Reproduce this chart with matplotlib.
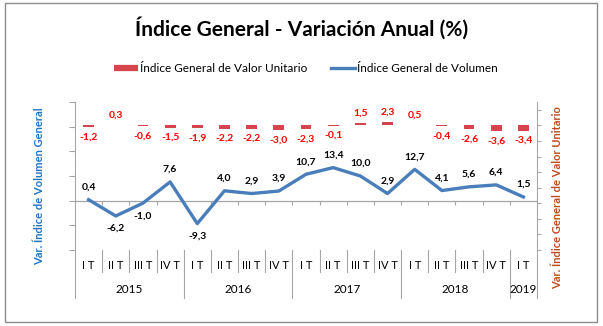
import numpy as np
import matplotlib.pyplot as plt
from matplotlib.lines import Line2D
from matplotlib.patches import Rectangle

plt.rcParams['font.family'] = ['Lato', 'DejaVu Sans']

# ---------------
# Data
# ---------------
quarters = ["I T", "II T", "III T", "IV T"] * 4 + ["I T"]
years = ["2015", "2016", "2017", "2018", "2019"]
year_sizes = [4, 4, 4, 4, 1]

valor_unitario = [-1.2, 0.3, -0.6, -1.5, -1.9, -2.2, -2.2, -3.0, -2.3,
                  -0.1, 1.5, 2.3, 0.5, -0.4, -2.6, -3.6, -3.4]
volumen = [0.4, -6.2, -1.0, 7.6, -9.3, 4.0, 2.9, 3.9, 10.7,
           13.4, 10.0, 2.9, 12.7, 4.1, 5.6, 6.4, 1.5]

BLUE = '#4A7EBB'
RED_BAR = '#D6454D'
RED_TXT = '#FF0000'
GRAY = '#A6A6A6'


def fmt(v):
    return f"{v:.1f}".replace('.', ',')


fig = plt.figure(figsize=(6.03, 3.26), dpi=100)
ax = fig.add_axes([75 / 603, 1 - 250 / 326, 462 / 603, 148 / 326])
ax2 = ax.twinx()

x = np.arange(len(volumen))

# Volume on the primary axis
ax.plot(x, volumen, color=BLUE, lw=2.4, zorder=3)
for i, v in enumerate(volumen):
    ax.annotate(fmt(v), (i, v), xytext=(0, 9 if v >= 0 else -9),
                textcoords='offset points', ha='center', va='center',
                fontsize=7.5, fontweight='bold', color='black')

# Unit value on the secondary axis
ax2.bar(x, valor_unitario, width=0.4, color=RED_BAR)
for i, v in enumerate(valor_unitario):
    ax2.annotate(fmt(v), (i, v), xytext=(0, 7 if v >= 0 else -7),
                 textcoords='offset points', ha='center', va='center',
                 fontsize=7.5, fontweight='bold', color=RED_TXT)

ax.set_xlim(-0.5, len(volumen) - 0.5)
ax.set_ylim(-20, 40)
ax.set_yticks(range(-20, 41, 10))
ax2.set_ylim(-80, 15)
ax2.set_yticks(range(-80, 11, 10))
ax.set_xticks([])

ax.tick_params(axis='y', length=4, color=GRAY, labelleft=False)
ax2.tick_params(axis='y', length=3, color=GRAY, labelright=False)

for s in ['top', 'bottom', 'right']:
    ax.spines[s].set_visible(False)
for s in ['top', 'bottom', 'left']:
    ax2.spines[s].set_visible(False)
ax.spines['left'].set_color(GRAY)
ax2.spines['right'].set_color(GRAY)

# zero line with small ticks between quarters
bounds = np.arange(len(volumen) + 1) - 0.5
ax.axhline(0, color=GRAY, lw=0.9, zorder=1)
ax.vlines(bounds[1:-1], -1.6, 0, color=GRAY, lw=0.8)

# two-level category axis under the plot
year_edges = np.concatenate([[0], np.cumsum(year_sizes)]) - 0.5
trans = ax.get_xaxis_transform()
for b in bounds:
    low = -0.324 if b in year_edges else -0.149
    ax.plot([b, b], [0, low], transform=trans, clip_on=False, color=GRAY, lw=0.8)
for i, q in enumerate(quarters):
    ax.text(i, -0.108, q, transform=trans, ha='center', va='center', fontsize=8)
for k, yr in enumerate(years):
    mid = (year_edges[k] + year_edges[k + 1]) / 2
    ax.text(mid, -0.27, yr, transform=trans, ha='center', va='center', fontsize=8.5)

# titles and axis labels
fig.text(0.5, 1 - 28 / 326, "Índice General - Variación Anual (%)",
         ha='center', va='center', fontsize=15, fontweight='bold')
fig.text(40 / 603, 1 - 186 / 326, "Var. Índice de Volumen General", rotation=90,
         ha='center', va='center', fontsize=8, fontweight='bold', color='#1F73C8')
fig.text(558 / 603, 1 - 198 / 326, "Var. Índice General de Valor Unitario", rotation=90,
         ha='center', va='center', fontsize=8, fontweight='bold', color='#C04A1C')

handles = [Line2D([0], [0], color=RED_BAR, lw=4.5, solid_capstyle='butt'),
           Line2D([0], [0], color=BLUE, lw=2.4)]
fig.legend(handles, ["Índice General de Valor Unitario", "Índice General de Volumen"],
           loc='center', bbox_to_anchor=(306 / 603, 1 - 69 / 326), ncol=2,
           frameon=False, fontsize=8.5, handlelength=2.0, handletextpad=0.2,
           columnspacing=2.0)

# outer frame
fig.patches.append(Rectangle((5 / 603, 4 / 326), 592 / 603, 319 / 326,
                             transform=fig.transFigure, fill=False,
                             ec='#8C8C8C', lw=1))

fig.savefig("out.png", dpi=100)
